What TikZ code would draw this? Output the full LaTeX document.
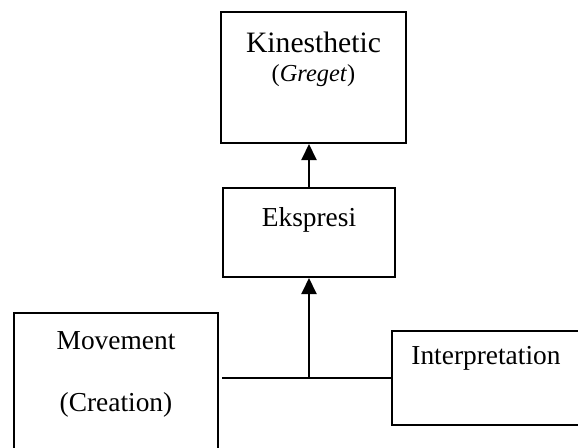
\documentclass[tikz,border=0pt]{standalone}
\usepackage{fontspec}
\setmainfont{Liberation Serif}
\usetikzlibrary{arrows.meta,positioning}

\begin{document}
\begin{tikzpicture}[x=1pt,y=1pt,>={Triangle[width=7.5pt,length=8pt]},
   box/.style={draw,line width=1pt,inner sep=0pt},
   txt/.style={inner sep=0pt,font=\fontsize{13.7}{16}\selectfont}]
   \useasboundingbox (0,0) rectangle (289,223.5);
   \clip (0,0) rectangle (289,223.5);
% Boxes
   \node [box,minimum width=92.5pt,minimum height=65.5pt] (kin) at (156.75,184.75) {};
   \node [box,minimum width=86pt,minimum height=44.5pt] (eks) at (154.5,107.25) {};
   \node [box,minimum width=102pt,minimum height=78.5pt] (mov) at (58,27.75) {};
   \node [box,minimum width=104pt,minimum height=47pt] (int) at (248,34.5) {};
% Texts
   \node [txt,font=\fontsize{14.8}{17}\selectfont] (kinname) at ([yshift=-15.5pt]kin.north) {Kinesthetic};
   \node [txt,font=\fontsize{12.2}{14}\selectfont] (kinsub) at ([yshift=-32.5pt]kin.north) {(\textit{Greget})};
   \node [txt] (eksname) at ([yshift=-16.5pt]eks.north) {Ekspresi};
   \node [txt] (movname) at ([yshift=-14.5pt]mov.north) {Movement};
   \node [txt] (movsub) at ([yshift=-46.5pt]mov.north) {(Creation)};
   \node [txt,anchor=west] (intname) at ([xshift=10pt,yshift=-14pt]int.north west) {Interpretation};
% Connectors
   \coordinate (join) at (eks.south |- int.west);
   \draw [line width=1pt,->] (eks.north) -- (eks.north |- kin.south);
   \draw [line width=1.3pt] ([xshift=1.5pt]mov.east |- join) -- (int.west);
   \draw [line width=1pt,->] (join) -- (eks.south);
\end{tikzpicture}
\end{document}
